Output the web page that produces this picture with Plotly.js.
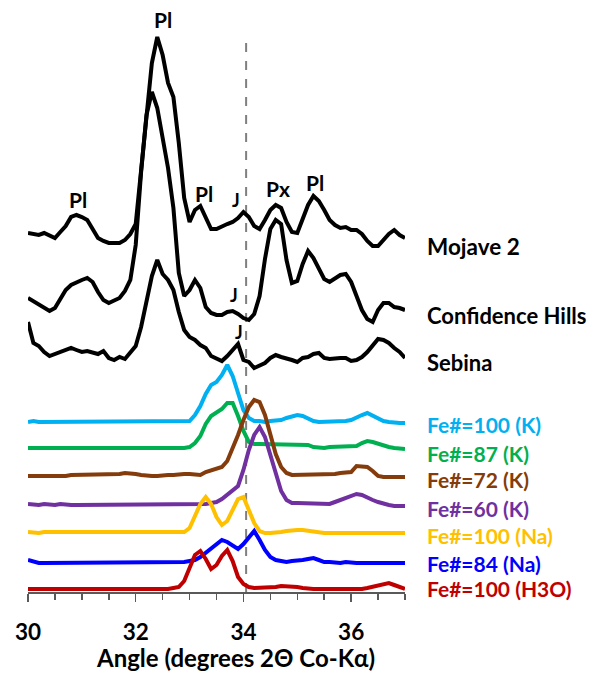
<!DOCTYPE html>
<html>
<head>
<meta charset="utf-8">
<script src="https://cdn.plot.ly/plotly-3.0.1.min.js"></script>
<style>html,body{margin:0;padding:0;background:#fff;}#chart{width:595px;height:675px;}</style>
</head>
<body>
<div id="chart"></div>
<script>
// 2-theta angle grid (degrees, Co-Kα)
var angle = [30.0,30.1,30.2,30.3,30.4,30.5,30.6,30.7,30.8,30.9,
  31.0,31.1,31.2,31.3,31.4,31.5,31.6,31.7,31.8,31.9,
  32.0,32.1,32.2,32.3,32.4,32.5,32.6,32.7,32.8,32.9,
  33.0,33.1,33.2,33.3,33.4,33.5,33.6,33.7,33.8,33.9,
  34.0,34.1,34.2,34.3,34.4,34.5,34.6,34.7,34.8,34.9,
  35.0,35.1,35.2,35.3,35.4,35.5,35.6,35.7,35.8,35.9,
  36.0,36.1,36.2,36.3,36.4,36.5,36.6,36.7,36.8,36.9,37.0];

// stacked intensities (arbitrary units, offset included)
var mojave2 = [359,358,357,359,356,354,360,366,375,377,
  375,372,363,354,351,349,349,349,352,358,
  368,424,482,529,555,537,509,495,449,394,
  370,382,386,374,363,363,366,368,370,374,
  380,375,366,363,372,382,387,384,370,360,
  359,374,387,396,391,382,372,367,364,365,
  362,362,358,351,346,346,352,358,362,357,354];
var confidenceHills = [294,291,288,285,281,284,293,302,307,310,
  312,314,310,300,292,289,292,294,301,312,
  347,420,477,500,484,455,424,384,319,296,
  302,312,304,285,279,277,277,280,281,278,
  274,272,278,296,333,363,372,368,332,309,
  311,328,341,334,324,313,310,314,317,318,
  310,296,282,273,270,282,289,289,285,284,282];
var sebina = [270,249,246,240,236,238,239,241,244,242,
  240,241,239,238,241,234,232,235,233,240,
  246,265,290,316,332,318,312,302,280,262,
  255,252,247,244,236,234,231,236,242,248,
  232,230,224,226,229,234,237,235,234,232,
  230,234,235,238,239,234,233,234,234,234,
  231,232,235,240,247,253,252,249,244,240,234];
var fe100K = [170,171,170,170,171,170,170,171,170,170,
  171,170,170,170,171,170,170,170,170,171,
  171,170,170,171,171,171,170,170,171,171,
  171,177,186,198,207,210,217,227,216,199,
  182,174,171,171,170,171,171,172,174,176,
  177,176,173,171,170,170,170,170,170,171,
  172,175,177,179,176,173,171,170,169,169,169];
var fe87K = [144,144,143,144,144,144,144,144,143,144,
  144,143,144,143,144,144,144,144,143,143,
  144,144,144,144,144,144,144,144,143,144,
  145,149,156,168,176,179,183,189,189,176,
  161,150,148,148,148,147,147,147,148,148,
  148,148,147,145,144,144,145,145,145,145,
  145,146,149,151,150,148,146,145,144,143,143];
var fe72K = [116,116,115,116,116,116,116,116,117,117,
  117,117,117,118,118,118,118,118,119,119,
  118,117,116,116,116,117,117,117,118,118,
  118,117,117,120,122,124,125,131,143,157,
  172,185,192,190,177,158,138,125,119,117,
  117,118,117,117,117,117,118,118,119,119,
  120,126,126,125,121,116,115,115,115,115,115];
var fe60K = [88,87,87,88,87,87,88,87,87,87,
  87,87,87,88,87,87,87,87,87,87,
  87,87,87,87,87,87,87,87,87,88,
  88,88,88,88,89,90,93,97,101,106,
  122,142,157,165,155,137,119,101,92,89,
  89,89,88,89,88,88,88,90,92,94,
  95,98,97,94,92,90,88,87,86,86,86];
var fe100Na = [60,59,59,60,60,59,60,60,59,59,
  59,59,60,60,60,59,59,60,60,59,
  59,59,59,59,59,59,59,60,60,60,
  64,75,88,95,88,75,67,71,83,93,
  95,82,69,61,59,59,59,60,61,62,
  62,62,61,60,59,59,59,59,59,59,
  59,59,59,59,59,59,59,59,59,59,59];
var fe84Na = [32,30,29,29,29,30,29,29,30,29,
  29,30,29,29,30,29,29,30,30,29,
  30,30,30,30,30,30,30,30,30,30,
  31,32,35,39,44,48,52,50,46,43,
  48,55,61,52,42,35,32,31,30,31,
  31,32,33,34,32,30,30,29,29,30,
  29,29,29,29,29,29,29,29,29,29,29];
var fe100H3O = [3,3,3,3,2,3,3,3,3,3,
  3,3,3,3,3,3,3,3,3,3,
  3,3,3,3,3,3,3,4,5,11,
  24,37,41,33,23,27,36,42,31,15,
  8,5,4,4,4,5,5,6,6,6,
  5,4,3,3,3,3,3,2,2,2,
  2,2,3,4,5,7,8,9,7,5,3];

var seriesNames = ['Fe#=100 (K)','Fe#=87 (K)','Fe#=72 (K)','Fe#=60 (K)','Fe#=100 (Na)','Fe#=84 (Na)','Fe#=100 (H3O)','Sebina','Confidence Hills','Mojave 2'];
var seriesData = [fe100K, fe87K, fe72K, fe60K, fe100Na, fe84Na, fe100H3O, sebina, confidenceHills, mojave2];
var seriesColors = ['#00B0F0','#00B050','#843C0C','#7030A0','#FFC000','#0000FF','#C00000','#000000','#000000','#000000'];
var labelY = [168,139,113,84,57,29,4,230,277,346];
var labelSize = [21,21,21,21,21,21,21,22,22,22.5];

// peak labels
var peakText = ['Pl','Pl','Pl','J','Px','Pl','J','J'];
var peakX = [32.5,30.93,33.27,33.86,34.64,35.32,33.82,33.91];
var peakY = [573,393,399,392,404,410,297,260];
var peakSize = [21,21,21,18,21,21,18,18];

var junctionAngle = 34.05;

var FONT = 'Lato, "Open Sans", sans-serif';
var traces = [];
for (var i = 0; i < seriesData.length; i++) {
  traces.push({
    x: angle, y: seriesData[i], type: 'scatter', mode: 'lines', name: seriesNames[i],
    line: {color: seriesColors[i], width: 4, shape: 'linear'}, hoverinfo: 'skip'
  });
}

var annotations = [];
for (var j = 0; j < peakText.length; j++) {
  annotations.push({x: peakX[j], y: peakY[j], xref: 'x', yref: 'y', text: '<b>' + peakText[j] + '</b>',
    showarrow: false, xanchor: 'center', yanchor: 'middle',
    font: {family: FONT, size: peakSize[j], color: '#000'}});
}
for (var k = 0; k < seriesNames.length; k++) {
  annotations.push({x: 1.052, y: labelY[k], xref: 'paper', yref: 'y', text: '<b>' + seriesNames[k] + '</b>',
    showarrow: false, xanchor: 'left', yanchor: 'middle',
    font: {family: FONT, size: labelSize[k], color: seriesColors[k]}});
}
annotations.push({x: 33.86, y: -0.112, xref: 'x', yref: 'paper', text: '<b>Angle (degrees 2Θ Co-Kα)</b>',
  showarrow: false, xanchor: 'center', yanchor: 'middle', font: {family: FONT, size: 24, color: '#000'}});

var layout = {
  width: 595, height: 675,
  margin: {l: 28, r: 190, t: 10, b: 83},
  paper_bgcolor: '#fff', plot_bgcolor: '#fff',
  showlegend: false,
  xaxis: {
    range: [30, 37], showgrid: false, zeroline: false,
    showline: true, linecolor: '#595959', linewidth: 1.5,
    ticks: 'outside', ticklen: 8, tickwidth: 1.5, tickcolor: '#595959',
    tick0: 30, dtick: 2, ticklabelstandoff: 11,
    minor: {dtick: 0.5, ticks: 'outside', ticklen: 6, tickwidth: 1.5, tickcolor: '#595959', showgrid: false},
    tickfont: {family: FONT, size: 22.5, color: '#000', weight: 'bold'}
  },
  yaxis: {range: [0, 582], visible: false, showgrid: false, zeroline: false},
  shapes: [{type: 'line', xref: 'x', yref: 'y', x0: junctionAngle, x1: junctionAngle, y0: 0, y1: 553,
    line: {color: '#7F7F7F', width: 2, dash: 'dash'}, layer: 'below'}],
  annotations: annotations
};

Plotly.newPlot('chart', traces, layout, {staticPlot: true, displayModeBar: false});
</script>
</body>
</html>
